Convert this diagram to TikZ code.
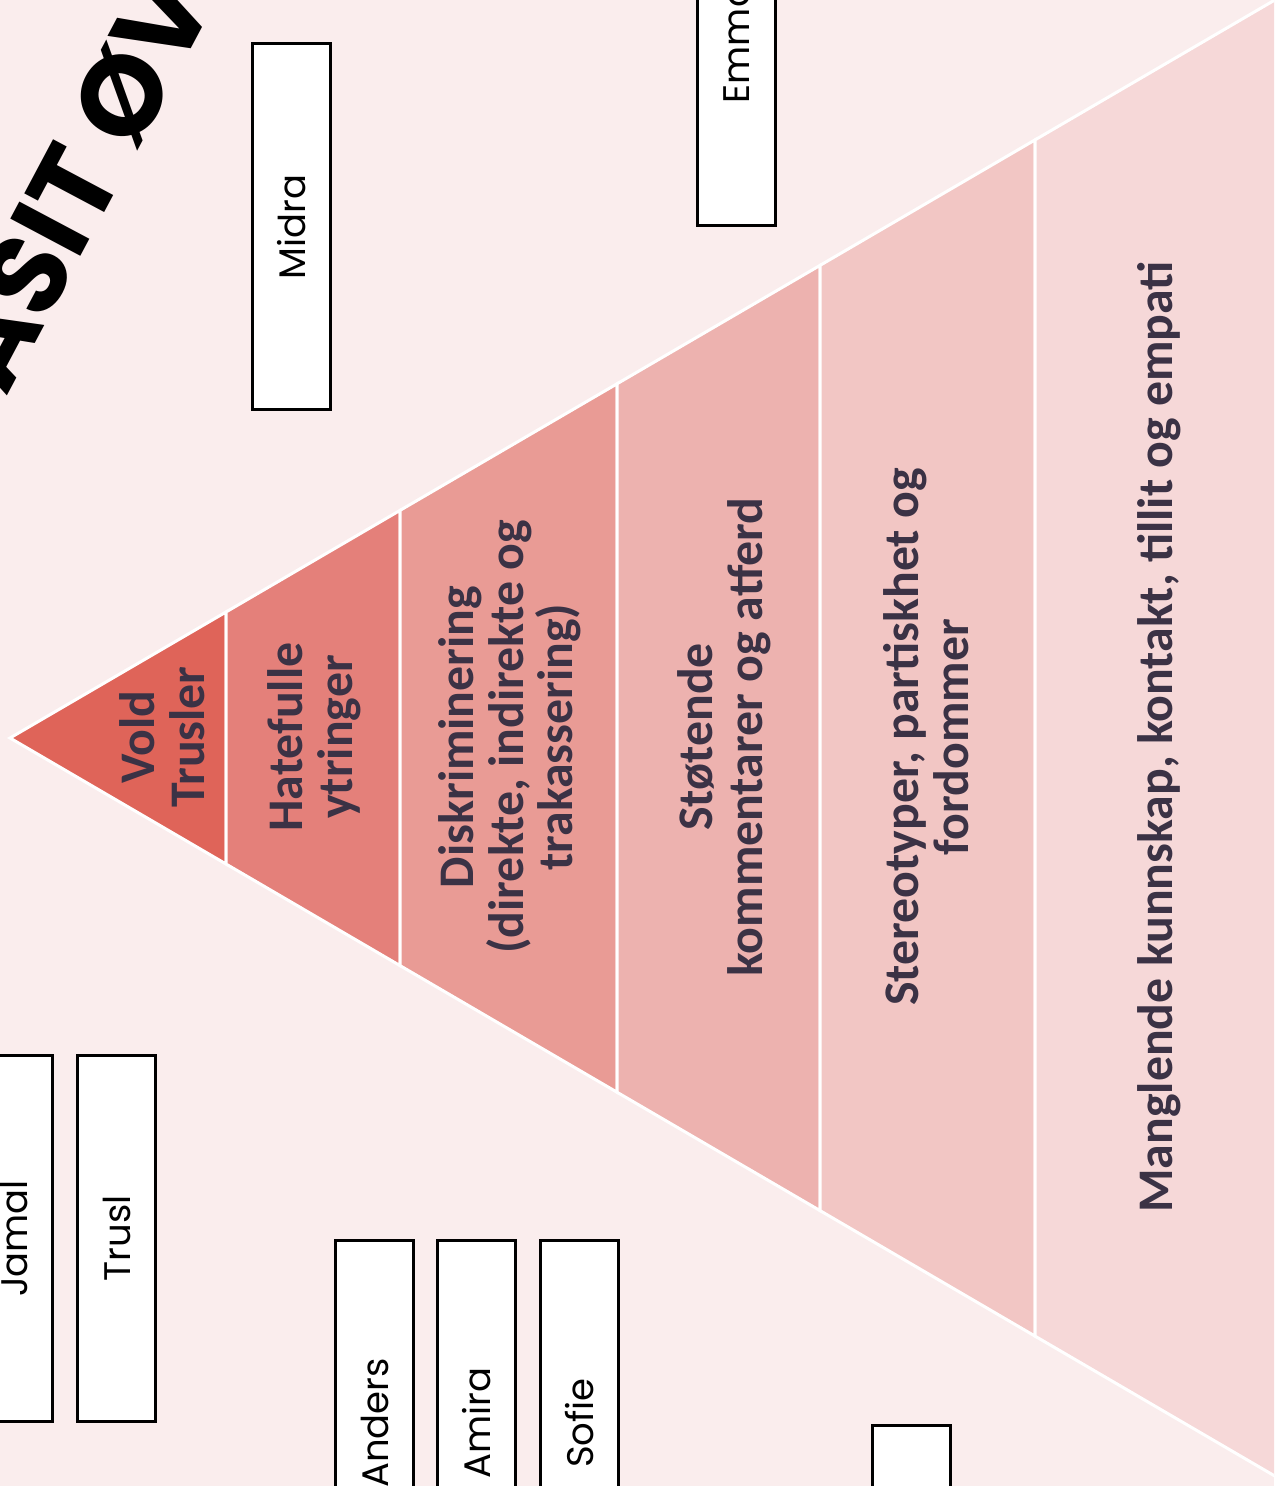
\documentclass[tikz,border=0pt]{standalone}
\usepackage{fontspec}
\newfontfamily\pyrfont{Carlito}
\newfontfamily\boxfont{Poppins}
\newfontfamily\titlefont{Poppins}
\definecolor{bg}{HTML}{FAEDED}
\definecolor{bandA}{HTML}{DF6459}
\definecolor{bandB}{HTML}{E4807A}
\definecolor{bandC}{HTML}{E99B95}
\definecolor{bandD}{HTML}{EDB2AF}
\definecolor{bandE}{HTML}{F2C6C4}
\definecolor{bandF}{HTML}{F6D8D8}
\definecolor{pyrtext}{HTML}{3B3245}
\tikzset{
  band/.style={draw=white, line width=1.5pt, line join=miter},
  pyrlabel/.style={rotate=90, align=center, text=pyrtext, inner sep=0pt,
    font=\pyrfont\bfseries\fontsize{24.9}{24.8}\selectfont},
  namebox/.style={rotate=90, draw=black, fill=white, line width=1.5pt,
    minimum width=183pt, minimum height=39pt, inner sep=0pt,
    font=\boxfont\fontsize{18.5}{22}\selectfont},
  titletext/.style={rotate=62, inner sep=0pt, text=black,
    font=\titlefont\bfseries\fontsize{56.5}{60}\selectfont}
}
\begin{document}
\begin{tikzpicture}[x=0.5pt, y=-0.5pt]
\useasboundingbox (0,0) rectangle (1274,1486);
\clip (0,0) rectangle (1274,1486);
\fill[bg] (0,0) rectangle (1274,1486);

% pyramid bands
\filldraw[band, fill=bandA] (10,738) -- (226,612) -- (226,864) -- cycle;
\filldraw[band, fill=bandB] (226,612) -- (400,510.4) -- (400,965.6) -- (226,864) -- cycle;
\filldraw[band, fill=bandC] (400,510.4) -- (617,383.8) -- (617,1092.2) -- (400,965.6) -- cycle;
\filldraw[band, fill=bandD] (617,383.8) -- (820,265.4) -- (820,1210.6) -- (617,1092.2) -- cycle;
\filldraw[band, fill=bandE] (820,265.4) -- (1035,139.9) -- (1035,1336.1) -- (820,1210.6) -- cycle;
\filldraw[band, fill=bandF] (1035,139.9) -- (1300,-14.7) -- (1300,1490.7) -- (1035,1336.1) -- cycle;

% pyramid labels
\node[pyrlabel] (l1) at (162,737) {Vold\\Trusler};
\node[pyrlabel] (l2) at (314,737) {Hatefulle\\ytringer};
\node[pyrlabel] (l3) at (510,737) {Diskriminering\\(direkte, indirekte og\\trakassering)};
\node[pyrlabel] (l4) at (724,737) {Støtende\\kommentarer og atferd};
\node[pyrlabel] (l5) at (926,737) {Stereotyper, partiskhet og\\fordommer};
\node[pyrlabel] (l6) at (1159,737) {Manglende kunnskap, kontakt, tillit og empati};

% name boxes
\node[namebox] (midra) at (291.5,227) {Midra};
\node[namebox] (emma) at (736.5,43) {Emma};
\node[namebox] (jamal) at (13.5,1238.5) {Jamal};
\node[namebox] (trusl) at (116.5,1238.5) {Trusl};
\node[namebox] (anders) at (374.5,1423) {Anders};
\node[namebox] (amira) at (476.5,1423) {Amira};
\node[namebox] (sofie) at (579.5,1423) {Sofie};
\node[namebox] (blank) at (911.5,1608) {};

% title
\node[titletext, anchor=base west] (title) at (6,398) {ASIT ØV};
\end{tikzpicture}
\end{document}
